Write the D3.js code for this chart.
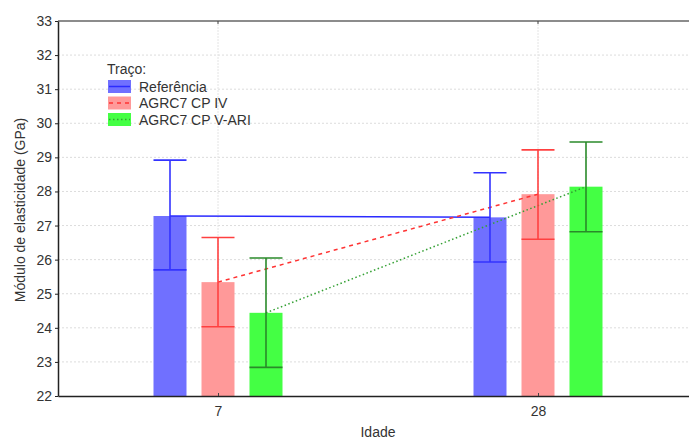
<!DOCTYPE html>
<html><head><meta charset="utf-8">
<script src="https://cdn.jsdelivr.net/npm/d3@7"></script>
<style>body{margin:0;background:#fff;} svg{display:block;font-family:"Liberation Sans",Arial,sans-serif;}</style>
</head><body>
<svg id="c" width="689" height="441"></svg>
<script>
const categories = ["7", "28"];
const seriesNames = ["Referência", "AGRC7 CP IV", "AGRC7 CP V-ARI"];
const refMean = [27.28, 27.24];
const refUpper = [28.92, 28.55];
const refLower = [25.70, 25.93];
const cp4Mean = [25.34, 27.92];
const cp4Upper = [26.65, 29.22];
const cp4Lower = [24.03, 26.60];
const cp5Mean = [24.44, 28.14];
const cp5Upper = [26.05, 29.45];
const cp5Lower = [22.84, 26.82];
const yTicks = [22, 23, 24, 25, 26, 27, 28, 29, 30, 31, 32, 33];

const series = [
  {name: seriesNames[0], mean: refMean, up: refUpper, lo: refLower, fill: "#7070ff", line: "#2b2bff", err: "#3333ff", dash: null},
  {name: seriesNames[1], mean: cp4Mean, up: cp4Upper, lo: cp4Lower, fill: "#ff9999", line: "#ff3333", err: "#ff4040", dash: "4,4"},
  {name: seriesNames[2], mean: cp5Mean, up: cp5Upper, lo: cp5Lower, fill: "#44ff44", line: "#33a033", err: "#2a8a2a", dash: "1.5,2.5"}
];

const svg = d3.select("#c");
const L = 58, R = 698, T = 21, B = 396;
const x = d3.scalePoint().domain(categories).range([L, R]).padding(0.5);
const off = d3.scalePoint().domain(seriesNames).range([-48, 48]);
const y = d3.scaleLinear().domain([22, 33]).range([B, T]);
const bw = 33;

// grid
const g = svg.append("g");
g.selectAll("line.h").data(yTicks.slice(1, -1)).join("line")
  .attr("x1", L).attr("x2", R).attr("y1", d => y(d)).attr("y2", d => y(d))
  .attr("stroke", "#dcdcdc").attr("stroke-dasharray", "2,2");
g.selectAll("line.v").data(categories).join("line")
  .attr("x1", d => x(d)).attr("x2", d => x(d)).attr("y1", T).attr("y2", B)
  .attr("stroke", "#e4e4e4").attr("stroke-dasharray", "2,1");

// bars
series.forEach(s => {
  svg.append("g").selectAll("rect").data(categories).join("rect")
    .attr("x", d => x(d) + off(s.name) - bw / 2)
    .attr("width", bw)
    .attr("y", (d, i) => y(s.mean[i]))
    .attr("height", (d, i) => y(22) - y(s.mean[i]))
    .attr("fill", s.fill);
});

// lines
series.forEach(s => {
  const line = d3.line().x((d, i) => x(categories[i]) + off(s.name)).y(d => y(d));
  svg.append("path").datum(s.mean).attr("d", line).attr("fill", "none")
    .attr("stroke", s.line).attr("stroke-width", 1.5)
    .attr("stroke-dasharray", s.dash);
});

// error bars
series.forEach(s => {
  const eg = svg.append("g").attr("stroke", s.err).attr("stroke-width", 1.6);
  categories.forEach((c, i) => {
    const cx = x(c) + off(s.name);
    eg.append("line").attr("x1", cx).attr("x2", cx).attr("y1", y(s.up[i])).attr("y2", y(s.lo[i]));
    eg.append("line").attr("x1", cx - bw / 2).attr("x2", cx + bw / 2).attr("y1", y(s.up[i])).attr("y2", y(s.up[i]));
    eg.append("line").attr("x1", cx - bw / 2).attr("x2", cx + bw / 2).attr("y1", y(s.lo[i])).attr("y2", y(s.lo[i]));
  });
});

// frame
svg.append("line").attr("x1", L).attr("x2", R).attr("y1", T).attr("y2", T).attr("stroke", "#666").attr("stroke-width", 1.5);

// axes
const ya = svg.append("g").attr("transform", `translate(${L},0)`)
  .call(d3.axisLeft(y).tickValues(yTicks).tickSize(3).tickSizeOuter(0).tickFormat(d3.format("d")));
ya.select(".domain").attr("stroke", "#222").attr("stroke-width", 1.5);
ya.selectAll(".tick line").attr("stroke", "#222");
ya.selectAll("text").attr("font-size", 14).attr("fill", "#333").attr("font-family", "Liberation Sans, Arial, sans-serif").attr("x", -6);

const xa = svg.append("g").attr("transform", `translate(0,${B})`)
  .call(d3.axisBottom(x).tickSize(-3).tickSizeOuter(0));
xa.select(".domain").attr("stroke", "#222").attr("stroke-width", 1.5);
xa.selectAll(".tick line").attr("stroke", "#444");
xa.selectAll("text").attr("font-size", 14).attr("fill", "#333").attr("font-family", "Liberation Sans, Arial, sans-serif").attr("y", 10);
// top ticks
svg.append("g").selectAll("line").data(categories).join("line")
  .attr("x1", d => x(d)).attr("x2", d => x(d)).attr("y1", T).attr("y2", T + 3).attr("stroke", "#444");

// axis titles
svg.append("text").attr("x", 378).attr("y", 437).attr("text-anchor", "middle")
  .attr("font-size", 14).attr("fill", "#333").text("Idade");
svg.append("text").attr("transform", "translate(25,210) rotate(-90)").attr("text-anchor", "middle")
  .attr("font-size", 14).attr("fill", "#333").text("Módulo de elasticidade (GPa)");

// legend
const lg = svg.append("g").attr("transform", "translate(107,0)");
lg.append("text").attr("x", 0).attr("y", 74).attr("font-size", 14).attr("fill", "#333").text("Traço:");
series.forEach((s, i) => {
  const yy = 80 + i * 16.5;
  lg.append("rect").attr("x", 1).attr("y", yy).attr("width", 23).attr("height", 13).attr("fill", s.fill);
  lg.append("line").attr("x1", 2).attr("x2", 23).attr("y1", yy + 6.5).attr("y2", yy + 6.5)
    .attr("stroke", s.line).attr("stroke-width", 1.5).attr("stroke-dasharray", s.dash);
  lg.append("text").attr("x", 32).attr("y", yy + 11.5).attr("font-size", 14).attr("fill", "#333").text(s.name);
});
</script>
</body></html>
